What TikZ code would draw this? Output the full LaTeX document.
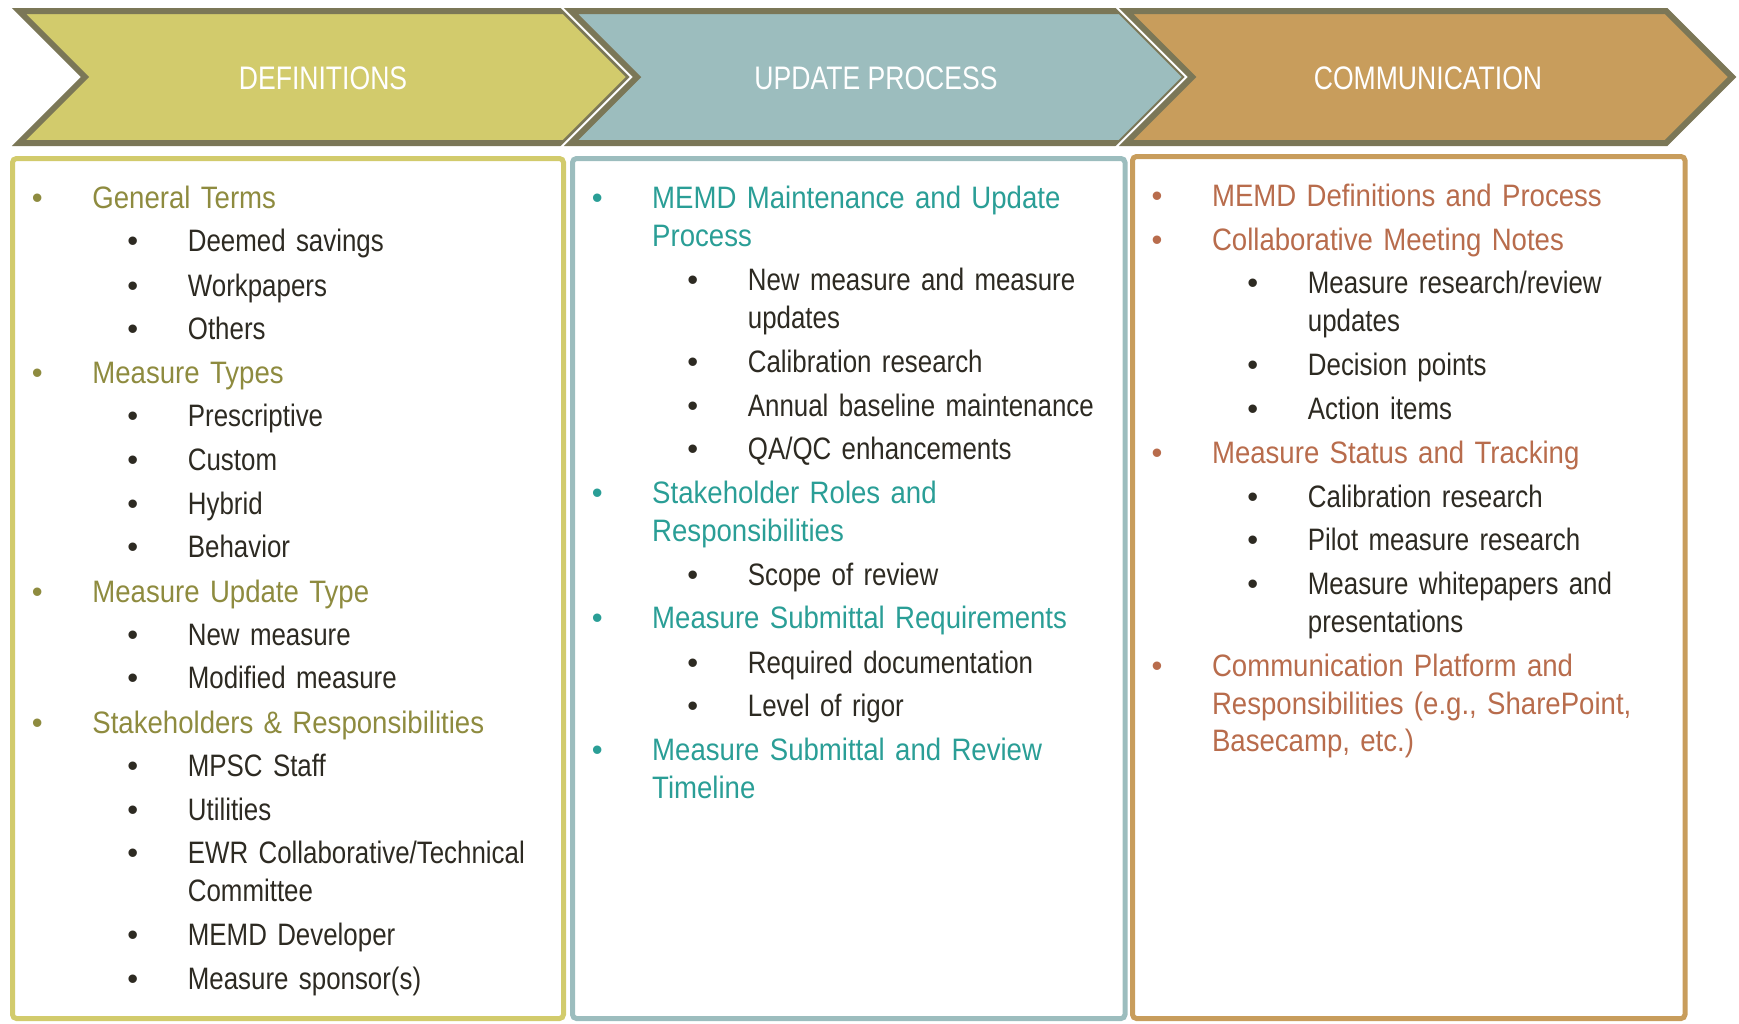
\documentclass[tikz,border=0pt]{standalone}
\usepackage{fontspec}
\setmainfont{Liberation Sans}[FakeStretch=0.835]
\newfontfamily\headfont{Liberation Sans}[FakeStretch=0.815]
\newfontfamily\topicfont{Liberation Sans}[FakeStretch=0.89]
\newfontfamily\bulfont{Liberation Sans}
\usepackage{tikz}
\definecolor{defgreen}{HTML}{D2CB6C}
\definecolor{updblue}{HTML}{9CBDBE}
\definecolor{comtan}{HTML}{C89D5C}
\definecolor{rim}{HTML}{7B7757}
\definecolor{deftext}{HTML}{8E8B3F}
\definecolor{updtext}{HTML}{2A9E96}
\definecolor{comtext}{HTML}{B86C4C}
\definecolor{bodytext}{HTML}{2D2A22}
\tikzstyle{chevron} = [draw=rim, line width=3pt, line join=miter,
preaction={draw=white, line width=5pt}]
\tikzstyle{panel} = [line width=2.5pt, rounded corners=2pt]
\tikzstyle{banner} = [text=white, font=\headfont\fontsize{16.3}{19}\selectfont, inner sep=0pt]
\tikzstyle{entry} = [anchor=base west, inner sep=0pt, text width=215pt, align=left,
execute at begin node={\llap{\makebox[0pt]{\bulfont\textbullet}\hspace{27.5pt}}}]
\tikzstyle{topic} = [entry, font=\topicfont\fontsize{15.5}{18.85}\selectfont]
\tikzstyle{subpoint} = [entry, text=bodytext, font=\fontsize{15.5}{18.85}\selectfont]

\begin{document}
\begin{tikzpicture}[x=0.5pt, y=-0.5pt]
\useasboundingbox (0,0) rectangle (1739,1023);
% Draw chevrons
\draw [chevron, fill=defgreen] (19,11) -- (564,11) -- (630,77) -- (564,143) -- (19,143) -- (85,77) -- cycle;
\draw [chevron, fill=updblue] (571,11) -- (1120,11) -- (1186,77) -- (1120,143) -- (571,143) -- (637,77) -- cycle;
\draw [chevron, fill=comtan] (1126,11) -- (1666,11) -- (1732,77) -- (1666,143) -- (1126,143) -- (1192,77) -- cycle;
% Draw panels
\draw [panel, draw=defgreen] (12.5,158.5) rectangle (563.5,1018.5);
\draw [panel, draw=updblue] (572.5,158.5) rectangle (1125,1018.5);
\draw [panel, draw=comtan] (1132.5,156.5) rectangle (1685,1018.5);
% Place titles
\node [banner] (defs) at (323,78) {DEFINITIONS};
\node [banner] (update) at (876,78) {UPDATE PROCESS};
\node [banner] (comm) at (1428,78) {COMMUNICATION};
% Definitions column
\node [topic, text=deftext] (terms) at (92,208.4) {General Terms};
\node [subpoint] (deemed) at (187.5,251.7) {Deemed savings};
\node [subpoint] (workpapers) at (187.5,296) {Workpapers};
\node [subpoint] (others) at (187.5,339.3) {Others};
\node [topic, text=deftext] (types) at (92,383.6) {Measure Types};
\node [subpoint] (prescriptive) at (187.5,426.9) {Prescriptive};
\node [subpoint] (custom) at (187.5,470.1) {Custom};
\node [subpoint] (hybrid) at (187.5,514.5) {Hybrid};
\node [subpoint] (behavior) at (187.5,557.7) {Behavior};
\node [topic, text=deftext] (updtype) at (92,602.1) {Measure Update Type};
\node [subpoint] (newmeasure) at (187.5,645.3) {New measure};
\node [subpoint] (modified) at (187.5,688.6) {Modified measure};
\node [topic, text=deftext] (holders) at (92,733) {Stakeholders \& Responsibilities};
\node [subpoint] (mpsc) at (187.5,776.2) {MPSC Staff};
\node [subpoint] (utilities) at (187.5,820.6) {Utilities};
\node [subpoint] (ewr) at (187.5,863.8) {EWR Collaborative/Technical\\Committee};
\node [subpoint] (developer) at (187.5,945.9) {MEMD Developer};
\node [subpoint] (sponsor) at (187.5,989.1) {Measure sponsor(s)};
% Update process column
\node [topic, text=updtext] (maint) at (651.8,208.4) {MEMD Maintenance and Update\\Process};
\node [subpoint] (newupd) at (747.5,290.5) {New measure and measure\\updates};
\node [subpoint] (calib) at (747.5,372.5) {Calibration research};
\node [subpoint] (baseline) at (747.5,416.9) {Annual baseline maintenance};
\node [subpoint] (qaqc) at (747.5,459) {QA/QC enhancements};
\node [topic, text=updtext] (roles) at (651.8,503.4) {Stakeholder Roles and\\Responsibilities};
\node [subpoint] (scope) at (747.5,585.5) {Scope of review};
\node [topic, text=updtext] (reqs) at (651.8,628.7) {Measure Submittal Requirements};
\node [subpoint] (docs) at (747.5,673) {Required documentation};
\node [subpoint] (rigor) at (747.5,716.3) {Level of rigor};
\node [topic, text=updtext] (timeline) at (651.8,760.7) {Measure Submittal and Review\\Timeline};
% Communication column
\node [topic, text=comtext] (memddef) at (1211.6,206.2) {MEMD Definitions and Process};
\node [topic, text=comtext] (notes) at (1211.6,250.5) {Collaborative Meeting Notes};
\node [subpoint] (research) at (1307.5,293.8) {Measure research/review\\updates};
\node [subpoint] (decision) at (1307.5,375.9) {Decision points};
\node [subpoint] (action) at (1307.5,419.1) {Action items};
\node [topic, text=comtext] (status) at (1211.6,463.5) {Measure Status and Tracking};
\node [subpoint] (calib2) at (1307.5,507.8) {Calibration research};
\node [subpoint] (pilot) at (1307.5,550) {Pilot measure research};
\node [subpoint] (white) at (1307.5,594.3) {Measure whitepapers and\\presentations};
\node [topic, text=comtext] (platform) at (1211.6,676.4) {Communication Platform and\\Responsibilities (e.g., SharePoint,\\Basecamp, etc.)};
\end{tikzpicture}
\end{document}
